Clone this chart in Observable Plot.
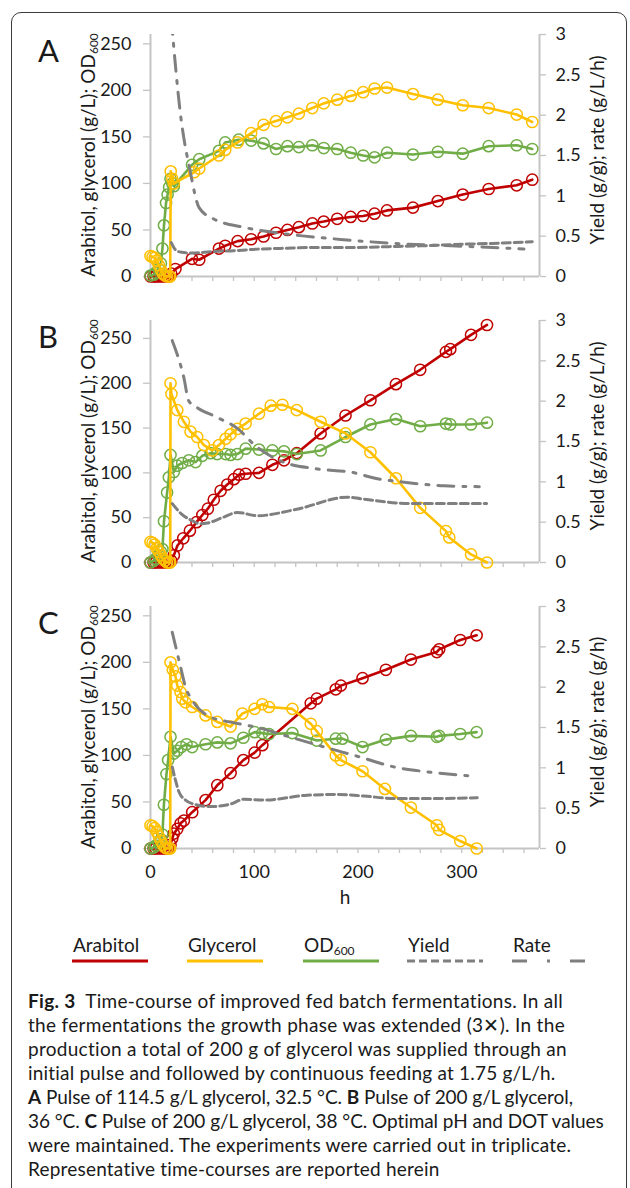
<!DOCTYPE html>
<html>
<head>
<meta charset="utf-8">
<script src="https://cdn.jsdelivr.net/npm/d3@7"></script>
<script src="https://cdn.jsdelivr.net/npm/@observablehq/plot@0.6"></script>
<style>
  body { margin: 0; background: #fff; }
  #page { position: relative; width: 630px; height: 1188px; overflow: hidden; font-family: Lato, sans-serif; color: #1a1a1a; }
  #border { position: absolute; left: 11px; top: 12px; width: 616px; height: 1300px; border: 1.5px solid #3c3c3c; border-radius: 10px; box-sizing: border-box; }
  .panel { position: absolute; left: 0; }
  .letter { position: absolute; left: 38px; font-size: 31px; line-height: 31px; }
  .ytitle { position: absolute; white-space: nowrap; font-size: 19px; line-height: 20px; transform: translate(-50%, -50%) rotate(-90deg); }
  .ytitle sub { font-size: 12px; vertical-align: -3px; line-height: 0; }
  .leg { position: absolute; top: 935px; font-size: 19px; line-height: 20px; }
  .leg sub { font-size: 12px; vertical-align: -3px; line-height: 0; }
  .leg svg { position: absolute; left: -1px; top: 24px; overflow: visible; }
  #caption { position: absolute; left: 28px; top: 989px; font-size: 19px; line-height: 24px; white-space: nowrap; }
  #caption span { display: block; white-space: nowrap; width: max-content; }
</style>
</head>
<body>
<div id="page">
  <div id="border"></div>
</div>
<script>
// ---------------- data: [hours, value] ----------------
const xMinorTicks = d3.range(0, 361, 20);
const xLabelTicks = [0, 100, 200, 300];
const yLeftTicks = [0, 50, 100, 150, 200, 250];
const yRightTicks = [0, 0.5, 1, 1.5, 2, 2.5, 3];

// Panel A
const A_arabitol = [[0,0],[3,0],[5,0],[8,0],[11,0],[14,0],[17,0],[20,3],[24,8],[40,19],[47,18],[66,30],[72,33],[84,38],[97,40],[109,43],[121,47],[132,50],[143,53],[156,57],[167,59],[180,62],[193,64],[205,65],[216,67.5],[228,71],[253,74],[277,81],[301,88],[326,94],[353,98],[368,104]];
const A_glycerol = [[0,22],[2,21],[4,20],[6,17],[8,12],[10,7],[12,3],[14,1],[16,0],[18,0],[19,0],[19.5,113],[21,105],[22.5,100],[42,112],[47,116],[66,130],[72,136],[84,144],[97,154],[109,163],[121,167],[132,171],[143,175],[156,181],[167,186],[180,190],[193,194],[205,198],[216,202],[228,203],[253,196],[277,190],[301,184],[326,181],[353,174],[368,166]];
const A_od600 = [[0,1],[3,2],[5,4],[8,8],[10,14],[11.5,30],[13,55],[15,79],[16.5,88],[18,96],[19.3,105],[21,100],[22.5,97],[40,120],[47,126],[66,135],[72,144],[85,147],[97,146],[109,143],[121,137],[132,140],[143,139],[156,141],[167,138],[180,137],[193,133],[205,130],[216,128],[228,133],[253,131],[277,134],[301,132],[326,140],[353,141],[368,137]];
const A_yield = [[20,0.42],[25,0.32],[30,0.30],[40,0.29],[60,0.31],[80,0.32],[105,0.34],[130,0.35],[160,0.36],[200,0.36],[230,0.37],[260,0.38],[300,0.40],[330,0.41],[368,0.43]];
const A_rate = [[20,3.2],[29,2.0],[38,1.32],[47,0.85],[60,0.72],[90,0.61],[135,0.52],[183,0.46],[235,0.41],[290,0.38],[330,0.36],[360,0.34]];

// Panel B
const B_arabitol = [[0,0],[3,0],[5,0],[8,0],[11,0],[14,0],[17,0],[20,2],[22.5,8],[26,19],[31.6,27],[38,35.5],[44.4,45],[50,53],[55.3,60],[61,70],[67.6,80],[74,87],[80.4,93],[85.3,98],[91.7,99],[104.6,100],[117.5,109],[128.7,114],[141,122],[164,144],[188,164],[212,181],[236.6,199],[260,215],[284.8,235],[289,238],[309,254],[324.4,265]];
const B_glycerol = [[0,23],[2,22],[4,20],[6,16],[8,12],[10,8],[12,4],[14,2],[16,0],[18,0],[19,0],[19.3,200],[20.2,188],[25.8,170],[32.2,157],[38.6,146],[45,140],[51.5,131],[59.6,125],[66,131],[72.4,138],[77.2,143],[83.7,149],[91.7,155],[104.6,166],[115.9,175],[127.2,176],[141,170],[164,157],[188,144],[212,123],[236.6,94],[260,61],[284.8,35],[288,28],[309,9],[324.4,0]];
const B_od600 = [[0,0],[3,2],[5,4],[8,8],[10,12],[11.5,15],[13,46],[16,78],[17.7,95],[19.3,120],[22.5,101],[25.8,108],[30.6,111],[37,114],[43.5,112],[49.9,119],[57.9,122],[64.3,121],[72.4,121],[77.2,120],[83.7,121],[91.7,127],[104.6,126],[117.5,125],[128.7,124],[141,121],[164,125],[188,140],[212,154],[236.6,160],[260,152],[284.8,155],[289,154],[309,154],[324.4,156]];
const B_yield = [[21,0.73],[30,0.6],[40,0.52],[48,0.48],[55,0.49],[70,0.56],[84,0.62],[103,0.58],[141,0.66],[190,0.81],[203,0.79],[251,0.73],[324,0.73]];
const B_rate = [[21,2.75],[32,2.3],[37,2.0],[45,1.92],[64,1.8],[84,1.66],[101,1.45],[125,1.26],[161,1.16],[193,1.12],[222,1.03],[235,1.01],[283,0.95],[317,0.94]];

// Panel C
const C_arabitol = [[0,0],[3,0],[5,0],[8,0],[11,0],[14,0],[17,0],[19.3,4],[21,11],[22.5,16],[25.8,21],[29,27],[32.2,30],[40.2,39],[53.1,52],[64.4,68],[77.2,81],[89.5,95],[100.4,103],[107.8,111],[154.5,156],[160.3,161],[178.6,171],[183.5,175],[204.4,183],[226.9,192],[251,203],[276,211],[278.3,214],[298.6,224],[314.4,229]];
const C_glycerol = [[0,25],[2,24],[4,22],[6,18],[8,13],[10,8],[12,4],[14,1],[16,0],[18,0],[19,0],[19.3,200],[21.5,192],[24.1,185],[25.8,175],[29,168],[30.6,161],[33.8,157],[40.2,152],[53.1,143],[64.4,136],[77.2,131],[88.5,145],[100.4,150],[107.8,155],[114.2,152],[136.8,150],[154.5,134],[160.3,126],[178.6,100],[183.5,95],[204.4,83],[226,64],[251,44],[276,25],[278.3,20],[298.6,8],[314.4,0]];
const C_od600 = [[0,0],[3,1],[5,3],[8,6],[10,10],[11.5,15],[12.9,47],[15.4,80],[17,95],[19.3,120],[22.5,102],[25.8,105],[29.6,109],[34.7,112],[40.2,109],[53.1,112],[64.4,114],[77.2,113],[89.5,119],[100.4,125],[107.8,124],[114.2,123],[136.8,124],[160.3,116],[178.6,118],[185,118],[204.4,109],[226.9,117],[251,121],[276,120],[278.3,121],[298.6,123],[314.4,125]];
const C_yield = [[21,1.01],[24,0.85],[27.5,0.7],[33.8,0.6],[45,0.54],[58,0.52],[77,0.55],[90,0.61],[109,0.6],[151,0.66],[180,0.67],[206,0.65],[235,0.62],[276,0.62],[315,0.63]];
const C_rate = [[21,2.68],[29,2.25],[33.8,2.0],[40.2,1.84],[58,1.63],[80,1.56],[103,1.5],[135,1.38],[167,1.26],[203,1.13],[235,1.01],[267,0.95],[299,0.91],[309,0.9]];

const panelLetters = ["A", "B", "C"];
const leftTitle = "Arabitol, glycerol (g/L); OD";
const rightTitles = ["Yield (g/g); rate (g/L/h)", "Yield (g/g); rate (g/L/h)", "Yield (g/g); rate (g/h)"];
const legendNames = ["Arabitol", "Glycerol", "OD", "Yield", "Rate"];
const captionLines = [
  "<b>Fig. 3</b>&ensp;Time-course of improved fed batch fermentations. In all",
  "the fermentations the growth phase was extended (3✕). In the",
  "production a total of 200 g of glycerol was supplied through an",
  "initial pulse and followed by continuous feeding at 1.75 g/L/h.",
  "<b>A</b> Pulse of 114.5 g/L glycerol, 32.5 °C. <b>B</b> Pulse of 200 g/L glycerol,",
  "36 °C. <b>C</b> Pulse of 200 g/L glycerol, 38 °C. Optimal pH and DOT values",
  "were maintained. The experiments were carried out in triplicate.",
  "Representative time-courses are reported herein"
];
const captionWidths = [535, 537, 539, 528, 545, 576, 543, 412];

// ---------------- styles ----------------
const RED = "#C00000", YELLOW = "#FFC000", GREEN = "#70AD47", GRAY = "#7F7F7F", AX = "#C4C4C4", TXT = "#1a1a1a";
const X_MAX = 375;
const DASH_YIELD = "8,4", DASH_RATE = "16,9,3,9", DASH_RATE_LEGEND = "15,20,3,20";

function drawPanel(cfg) {
  const f = cfg.leftMax / 3;
  const P = a => a.map(([h, v]) => ({h, v}));
  const S = a => a.map(([h, v]) => ({h, v: v * f}));
  const series = (data, color) => [
    Plot.line(P(data), {x: "h", y: "v", stroke: color, strokeWidth: 2.6}),
    Plot.dot(P(data), {x: "h", y: "v", r: 5.6, stroke: color, strokeWidth: 1.5, fill: "none"})
  ];
  const marks = [
    Plot.axisX({ticks: xMinorTicks, tickSize: 5, tickFormat: () => "", stroke: AX, strokeWidth: 1.3, label: null}),
    Plot.axisY({anchor: "left", ticks: yLeftTicks, tickSize: 7, tickPadding: 12, stroke: AX, strokeWidth: 1.3, fill: TXT, label: null}),
    Plot.axisY({anchor: "right", ticks: yRightTicks.map(t => t * f), tickFormat: d => String(Math.round(d / f * 10) / 10), tickSize: 6, tickPadding: 10, stroke: AX, strokeWidth: 1.3, fill: TXT, label: null}),
    Plot.ruleX([0, X_MAX], {stroke: AX, strokeWidth: 2}),
    Plot.ruleY([0], {stroke: AX, strokeWidth: 2}),
    ...series(cfg.arabitol, RED),
    ...series(cfg.od, GREEN),
    ...series(cfg.glycerol, YELLOW),
    Plot.line(S(cfg.yield), {x: "h", y: "v", stroke: GRAY, strokeWidth: 3, strokeDasharray: DASH_YIELD, curve: "monotone-x", clip: true}),
    Plot.line(S(cfg.rate), {x: "h", y: "v", stroke: GRAY, strokeWidth: 3, strokeDasharray: DASH_RATE, curve: "monotone-x", clip: true})
  ];
  if (cfg.showX) {
    marks.push(Plot.axisX({ticks: xLabelTicks, tickSize: 0, tickPadding: 17, fill: TXT, label: null}));
    marks.push(Plot.text(["h"], {frameAnchor: "bottom", dy: 55, fontSize: 19, fill: TXT}));
  }
  const svg = Plot.plot({
    width: 630, height: cfg.mt + 242 + cfg.mb,
    marginLeft: 150, marginRight: 91, marginTop: cfg.mt, marginBottom: cfg.mb,
    style: {fontFamily: "Lato, sans-serif", fontSize: "18px", color: TXT, background: "transparent", overflow: "visible"},
    x: {domain: [0, X_MAX]},
    y: {domain: [0, cfg.leftMax]},
    marks
  });
  svg.classList.add("panel");
  svg.style.top = cfg.top + "px";
  return svg;
}

const page = document.getElementById("page");
const panels = [
  {top: 0, mt: 34, mb: 20, leftMax: 260, arabitol: A_arabitol, glycerol: A_glycerol, od: A_od600, yield: A_yield, rate: A_rate},
  {top: 296, mt: 24, mb: 20, leftMax: 270, arabitol: B_arabitol, glycerol: B_glycerol, od: B_od600, yield: B_yield, rate: B_rate},
  {top: 582, mt: 24, mb: 66, leftMax: 260, arabitol: C_arabitol, glycerol: C_glycerol, od: C_od600, yield: C_yield, rate: C_rate, showX: true}
];
panels.forEach((cfg, i) => {
  page.appendChild(drawPanel(cfg));
  const plotTop = cfg.top + cfg.mt, mid = plotTop + 121;
  const L = document.createElement("div");
  L.className = "letter"; L.textContent = panelLetters[i];
  L.style.top = (plotTop + 1) + "px";
  page.appendChild(L);
  const lt = document.createElement("div");
  lt.className = "ytitle"; lt.innerHTML = leftTitle + "<sub>600</sub>";
  lt.style.left = "88px"; lt.style.top = mid + "px";
  page.appendChild(lt);
  const rt = document.createElement("div");
  rt.className = "ytitle"; rt.textContent = rightTitles[i];
  rt.style.left = "597px"; rt.style.top = (mid - 5) + "px";
  page.appendChild(rt);
});

// legend
const legendItems = [
  {name: legendNames[0], color: RED, dash: null, x: 73},
  {name: legendNames[1], color: YELLOW, dash: null, x: 188},
  {name: legendNames[2], color: GREEN, dash: null, x: 304, sub: "600"},
  {name: legendNames[3], color: GRAY, dash: DASH_YIELD, x: 408},
  {name: legendNames[4], color: GRAY, dash: DASH_RATE_LEGEND, x: 513}
];
legendItems.forEach(it => {
  const d = document.createElement("div");
  d.className = "leg";
  d.style.left = it.x + "px";
  d.innerHTML = it.name + (it.sub ? "<sub>" + it.sub + "</sub>" : "");
  const s = d3.create("svg").attr("width", 76).attr("height", 4);
  s.append("line").attr("x1", 0).attr("x2", 76).attr("y1", 2).attr("y2", 2)
    .attr("stroke", it.color).attr("stroke-width", 3.2)
    .attr("stroke-dasharray", it.dash);
  d.appendChild(s.node());
  page.appendChild(d);
});

// caption: each line spread to the reference line width
const cap = document.createElement("div");
cap.id = "caption";
page.appendChild(cap);
captionLines.forEach((html, i) => {
  const sp = document.createElement("span");
  sp.innerHTML = html;
  cap.appendChild(sp);
  const natural = sp.getBoundingClientRect().width;
  const n = sp.textContent.length;
  const ls = (captionWidths[i] - natural) / Math.max(1, n - 1);
  sp.style.letterSpacing = Math.max(-0.6, Math.min(0.8, ls)).toFixed(3) + "px";
});
</script>
</body>
</html>
